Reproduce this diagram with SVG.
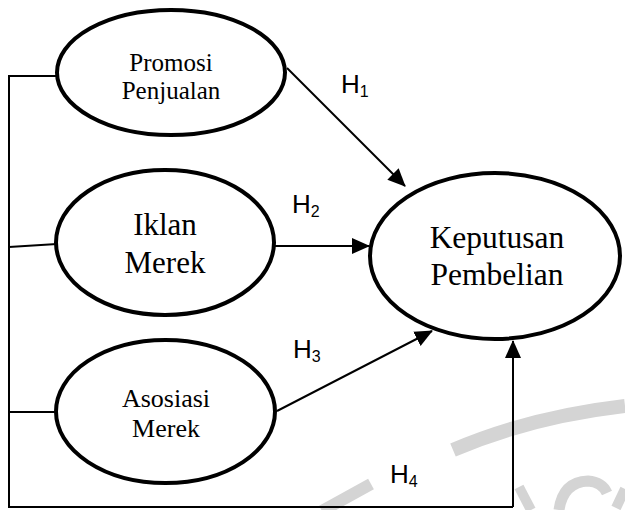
<svg xmlns="http://www.w3.org/2000/svg" width="625" height="510" viewBox="0 0 625 510">
  <style>
    .node { fill: #ffffff; stroke: #000000; stroke-width: 4; }
    .lbl { font-family: "Liberation Serif", "Times New Roman", serif; fill: #000000; text-anchor: middle; }
    .h { font-family: "Liberation Sans", Arial, sans-serif; font-size: 26px; fill: #000000; }
    .sub { font-size: 16px; }
    .conn { fill: none; stroke: #000000; stroke-width: 2; }
    .bracket { fill: none; stroke: #000000; stroke-width: 2; }
    .wm { fill: none; stroke: #d4d4d4; stroke-linecap: butt; }
  </style>
  <defs>
    <marker id="arrow" markerUnits="userSpaceOnUse" markerWidth="18" markerHeight="18" viewBox="0 0 18 16" refX="17" refY="8" orient="auto">
      <path d="M0,0 L18,8 L0,16 Z" fill="#000000"/>
    </marker>
  </defs>

  <g id="watermark">
    <path class="wm" stroke-width="14" d="M453 450 Q 530 417 625 406"/>
    <path class="wm" stroke-width="12" d="M322 511 L371 484"/>
    <path class="wm" stroke-width="10" d="M519 487 L531 510"/>
    <path class="wm" stroke-width="11" d="M559 510 Q 563 482 588 481 Q 602 482 607 493"/>
    <path class="wm" stroke-width="10" d="M616 508 L625 489"/>
  </g>

  <g id="connectors">
    <polyline class="bracket" points="56,76 9,76 9,507 513,507"/>
    <line class="bracket" x1="9" y1="247" x2="57" y2="244"/>
    <line class="bracket" x1="9" y1="412" x2="55" y2="412"/>
    <line class="conn" x1="287" y1="68" x2="405" y2="186" marker-end="url(#arrow)"/>
    <line class="conn" x1="275" y1="246" x2="369" y2="246" marker-end="url(#arrow)"/>
    <line class="conn" x1="277" y1="411" x2="432" y2="331" marker-end="url(#arrow)"/>
    <line class="conn" x1="513" y1="507" x2="513" y2="341" marker-end="url(#arrow)"/>
  </g>

  <g id="labels">
    <text class="h" x="341" y="93">H<tspan class="sub" dy="4">1</tspan></text>
    <text class="h" x="292" y="213">H<tspan class="sub" dy="4">2</tspan></text>
    <text class="h" x="293" y="358">H<tspan class="sub" dy="4">3</tspan></text>
    <text class="h" x="390" y="483">H<tspan class="sub" dy="4">4</tspan></text>
  </g>

  <g id="promosi-penjualan">
    <ellipse class="node" cx="171" cy="72.5" rx="114" ry="62.5"/>
    <text class="lbl" font-size="25" x="171" y="71">Promosi</text>
    <text class="lbl" font-size="25" x="171" y="99">Penjualan</text>
  </g>

  <g id="iklan-merek">
    <ellipse class="node" cx="165" cy="242.5" rx="109" ry="72.5"/>
    <text class="lbl" font-size="31" x="165" y="235">Iklan</text>
    <text class="lbl" font-size="31" x="165" y="273">Merek</text>
  </g>

  <g id="asosiasi-merek">
    <ellipse class="node" cx="165.5" cy="411.5" rx="109.5" ry="71.5"/>
    <text class="lbl" font-size="26" x="166" y="407">Asosiasi</text>
    <text class="lbl" font-size="26" x="166" y="437">Merek</text>
  </g>

  <g id="keputusan-pembelian">
    <ellipse class="node" cx="495" cy="256" rx="125" ry="83"/>
    <text class="lbl" font-size="31.5" x="497" y="248">Keputusan</text>
    <text class="lbl" font-size="31.5" x="497" y="285">Pembelian</text>
  </g>
</svg>
